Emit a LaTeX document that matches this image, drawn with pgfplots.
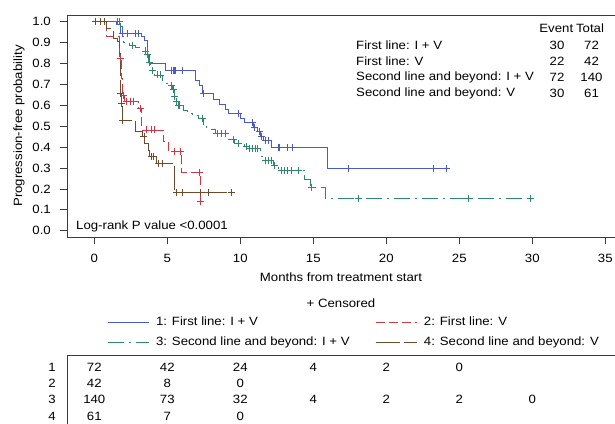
\documentclass[border=0pt]{standalone}
\usepackage{fontspec}
\setmainfont{Liberation Sans}[FakeStretch=1.1]
\usepackage{pgfplots}
\pgfplotsset{compat=1.18}

\definecolor{c1}{RGB}{75,90,200}
\definecolor{c2}{RGB}{205,55,70}
\definecolor{c3}{RGB}{45,135,115}
\definecolor{c4}{RGB}{110,75,45}
\definecolor{frame}{RGB}{60,60,60}

\pgfplotsset{
  s1/.style={c1, line width=0.9bp},
  s2/.style={c2, line width=0.9bp, dash pattern=on 9bp off 4bp},
  s3/.style={c3, line width=0.9bp, dash pattern=on 16bp off 5bp on 2bp off 5bp},
  s4/.style={c4, line width=0.9bp, dash pattern=on 24bp off 4bp},
  cens/.style={only marks, mark=+, mark size=3.5bp, line width=0.8bp, forget plot},
}

\begin{document}
\fontsize{12bp}{14bp}\selectfont
\begin{tikzpicture}
\useasboundingbox (-67bp,-187bp) rectangle (548bp,237bp);
\begin{axis}[
  at={(0,0)}, anchor=south west,
  scale only axis, width=552.9bp, height=222bp,
  xmin=-1.87, xmax=36.0, ymin=-0.03, ymax=1.032,
  clip=false,
  axis x line*=bottom, axis y line*=left,
  axis line style={-, line width=0.8bp, frame},
  tick align=outside, major tick length=7bp,
  tick style={line width=0.8bp, frame},
  xtick={0,5,10,15,20,25,30,35}, xticklabels={0,5,10,15,20,25,30,35},
  ytick={0,0.1,0.2,0.3,0.4,0.5,0.6,0.7,0.8,0.9,1.0},
  yticklabels={0.0,0.1,0.2,0.3,0.4,0.5,0.6,0.7,0.8,0.9,1.0},
  xticklabel style={yshift=-6bp},
  yticklabel style={xshift=-5bp},
  legend columns=2, legend cell align=left,
  legend style={at={(axis description cs:0.0723,-0.3572)}, anchor=north west,
    draw=none, fill=none, inner sep=0pt, row sep=8bp,
    nodes={inner sep=0pt, text height=9bp, text depth=3bp, anchor=west},
    /tikz/every odd column/.append style={column sep=7bp},
    /tikz/every even column/.append style={column sep=0bp}},
  legend image code/.code={\draw[#1] (0bp,0bp) -- (41bp,0bp);},
]
% 1: first line I+V
\addplot[s1, const plot] coordinates {
 (0,1.000) (1.55,0.986) (1.80,0.944) (3.25,0.930) (3.45,0.912) (3.65,0.840)
 (3.80,0.800) (4.84,0.766) (6.90,0.720) (7.20,0.697) (7.40,0.657) (8.15,0.629)
 (8.60,0.606) (9.00,0.581) (9.20,0.562) (10.00,0.538) (10.30,0.517) (10.90,0.495)
 (11.20,0.474) (11.40,0.453) (11.60,0.434) (12.10,0.399) (16.00,0.298) (24.10,0.298)
};
\addlegendentry{\makebox[219bp][l]{1: First line: I + V}}
% 2: first line V
\addplot[s2, const plot] coordinates {
 (0,1.000) (0.85,0.927) (1.70,0.880) (1.75,0.823) (1.85,0.730) (1.95,0.649)
 (2.05,0.620) (3.05,0.585) (3.25,0.482) (4.73,0.426) (5.10,0.378) (6.00,0.280)
 (7.25,0.139) (7.30,0.139)
};
\addlegendentry{2: First line: V}
% 3: second line and beyond I+V
\addplot[s3, const plot] coordinates {
 (0,1.000) (1.80,0.975) (1.90,0.930) (2.00,0.900) (2.40,0.888) (2.80,0.875)
 (3.20,0.860) (3.55,0.845) (3.70,0.807) (3.85,0.767) (4.10,0.745) (4.70,0.705)
 (5.10,0.697) (5.35,0.676) (5.50,0.641) (5.60,0.617) (5.70,0.600) (6.10,0.574)
 (6.40,0.560) (6.70,0.552) (7.10,0.538) (7.45,0.500) (7.70,0.485) (8.30,0.466)
 (9.20,0.437) (9.60,0.418) (10.30,0.405) (10.50,0.394) (11.40,0.357) (11.60,0.338)
 (12.25,0.314) (12.60,0.290) (14.40,0.243) (14.80,0.208) (15.80,0.155) (29.85,0.155)
};
\addlegendentry{\makebox[219bp][l]{3: Second line and beyond: I + V}}
% 4: second line and beyond V
\addplot[s4, const plot] coordinates {
 (0,1.000) (0.85,0.967) (1.30,0.920) (1.60,0.905) (1.75,0.850) (1.78,0.720)
 (1.80,0.657) (1.85,0.610) (1.90,0.528) (2.80,0.474) (3.30,0.450) (3.45,0.418)
 (3.70,0.386) (3.80,0.354) (4.27,0.322) (5.46,0.182) (9.50,0.182)
};
\addlegendentry{4: Second line and beyond: V}
% censored marks
\addplot[cens, c1] coordinates {
 (1.9,0.944) (2.3,0.944) (2.8,0.944) (3.0,0.944) (5.3,0.766) (5.45,0.766)
 (5.5,0.766) (5.55,0.766) (6.0,0.766) (7.45,0.657) (9.9,0.562) (10.85,0.517)
 (10.95,0.495) (11.3,0.474) (11.45,0.453) (11.7,0.434) (11.9,0.434) (12.6,0.399)
 (12.65,0.399) (12.7,0.399) (13.2,0.399) (13.6,0.399) (17.4,0.298) (23.2,0.298)
 (24.1,0.298)
};
\addplot[cens, c2] coordinates {
 (1.8,0.823) (2.0,0.649) (2.2,0.620) (2.5,0.620) (2.7,0.620) (3.15,0.585)
 (3.55,0.482) (3.9,0.482) (4.1,0.482) (5.5,0.378) (5.9,0.378) (7.2,0.280) (7.3,0.139)
};
\addplot[cens, c3] coordinates {
 (1.6,1.0) (1.75,1.0) (2.6,0.888) (3.5,0.860) (3.65,0.845) (3.75,0.807)
 (4.0,0.767) (4.3,0.745) (4.5,0.745) (5.3,0.697) (5.4,0.676) (5.5,0.641)
 (5.65,0.617) (5.75,0.600) (5.85,0.600) (7.4,0.538) (8.4,0.466) (8.7,0.466)
 (9.0,0.466) (9.5,0.437) (9.9,0.418) (10.45,0.405) (10.6,0.394) (10.8,0.394)
 (11.0,0.394) (11.15,0.394) (11.7,0.338) (11.9,0.338) (12.1,0.338) (12.35,0.314)
 (12.8,0.290) (13.0,0.290) (13.2,0.290) (13.5,0.290) (14.0,0.290) (14.9,0.208)
 (18.1,0.155) (25.6,0.155) (29.85,0.155)
};
\addplot[cens, c4] coordinates {
 (0.05,1.0) (0.4,1.0) (0.7,1.0) (1.8,0.657) (1.85,0.610) (1.95,0.528)
 (3.4,0.450) (3.9,0.354) (4.05,0.354) (4.4,0.322) (4.65,0.322) (5.65,0.182)
 (6.0,0.182) (7.25,0.182) (7.8,0.182) (9.4,0.182)
};
\draw[line width=0.8bp, frame] (rel axis cs:0,1) -- (rel axis cs:1,1);
\end{axis}

% number at risk
\begin{axis}[
  at={(0,-188.8bp)}, anchor=south west,
  scale only axis, width=552.9bp, height=70.8bp,
  xmin=-1.87, xmax=36.0, ymin=0.4, ymax=4.735,
  axis x line*=top, axis y line*=left,
  axis line style={-, line width=0.8bp, frame},
  xtick=\empty, ytick={1,2,3,4}, yticklabels={4,3,2,1},
  major tick length=0pt,
  yticklabel style={xshift=-7bp},
  clip=false,
]
\addplot[only marks, mark=none, nodes near coords, point meta=explicit symbolic,
  nodes near coords align=center] table[meta=n] {
x y n
0 4 72
5 4 42
10 4 24
15 4 4
20 4 2
25 4 0
0 3 42
5 3 8
10 3 0
0 2 140
5 2 73
10 2 32
15 2 4
20 2 2
25 2 2
30 2 0
0 1 61
5 1 7
10 1 0
};
\end{axis}

\node[rotate=90] at (-48bp,111bp) {Progression-free probability};
\node at (274bp,-40bp) {Months from treatment start};
\node at (274bp,-66bp) {+ Censored};
\node[anchor=west] at (5bp,11bp) {Log-rank P value <0.0001};
\node at (489.3bp,208.7bp) {Event};
\node at (523bp,208.7bp) {Total};
\node[anchor=west] at (285bp,192bp) {First line: I + V};
\node[anchor=west] at (285bp,176bp) {First line: V};
\node[anchor=west] at (285bp,159.7bp) {Second line and beyond: I + V};
\node[anchor=west] at (285bp,143.7bp) {Second line and beyond: V};
\node at (490bp,192bp) {30};   \node at (524.5bp,192bp) {72};
\node at (490bp,176bp) {22};   \node at (524.5bp,176bp) {42};
\node at (490bp,159.7bp) {72}; \node at (524.5bp,159.7bp) {140};
\node at (490bp,143.7bp) {30}; \node at (524.5bp,143.7bp) {61};
\end{tikzpicture}
\end{document}
